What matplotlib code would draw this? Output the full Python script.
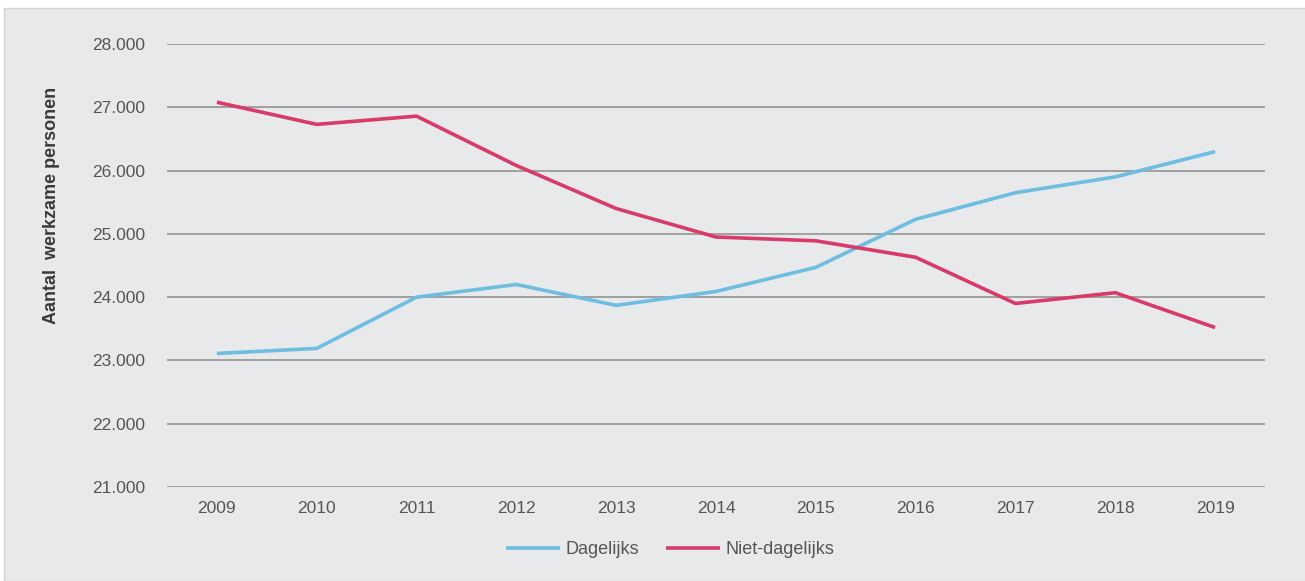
import matplotlib.pyplot as plt
from matplotlib.patches import Rectangle
from matplotlib.ticker import FuncFormatter

# Values
years = [2009, 2010, 2011, 2012, 2013, 2014, 2015, 2016, 2017, 2018, 2019]
dagelijks = [23110, 23190, 24000, 24200, 23870, 24090, 24470, 25230, 25650, 25900, 26300]
niet_dagelijks = [27080, 26730, 26860, 26080, 25400, 24950, 24890, 24630, 23900, 24070, 23520]
y_ticks = [21000, 22000, 23000, 24000, 25000, 26000, 27000, 28000]

plt.rcParams.update({
    "font.family": ["Liberation Sans", "DejaVu Sans"],
    "font.size": 12.5,
})

bg = '#e8e9eb'
text_col = '#555555'
col_dag = '#6dbee0'
col_niet = '#d83a69'

fig = plt.figure(figsize=(13.05, 5.81), dpi=100, facecolor='white')
# grey panel behind the chart (top strip stays white as in the source page)
fig.patches.append(Rectangle((4 / 1305, 0), 1, 1 - 8 / 581, transform=fig.transFigure,
                             facecolor=bg, edgecolor='#d2d3d5', lw=1, zorder=-10))

ax = fig.add_axes([167 / 1305, 1 - 487 / 581, (1265 - 167) / 1305, (487 - 44) / 581])
ax.set_facecolor('none')
ax.set_zorder(5)

x = list(range(len(years)))
ax.plot(x, dagelijks, color=col_dag, lw=2.6, label='Dagelijks', solid_capstyle='butt')
ax.plot(x, niet_dagelijks, color=col_niet, lw=2.6, label='Niet-dagelijks', solid_capstyle='butt')

ax.set_xlim(-0.5, len(years) - 0.5)
ax.set_ylim(21000, 28000)
ax.set_xticks(x)
ax.set_xticklabels([str(y) for y in years])
ax.set_yticks(y_ticks)
ax.yaxis.set_major_formatter(FuncFormatter(lambda v, p: f"{int(v):,}".replace(',', '.')))

ax.grid(axis='y', color='#a0a0a0', lw=1.4)
ax.set_axisbelow(True)
for s in ax.spines.values():
    s.set_visible(False)
ax.tick_params(axis='both', length=0, colors=text_col, labelsize=12.5)
ax.tick_params(axis='y', pad=16)
ax.tick_params(axis='x', pad=10)

fig.text(52 / 1305, 1 - 205 / 581, 'Aantal  werkzame personen', rotation=90,
         ha='center', va='center', fontsize=13, fontweight='bold', color='#3a3a3a')

fig.legend(loc='center', bbox_to_anchor=(670 / 1305, 1 - 550 / 581), ncol=2,
           frameon=False, handlelength=3.0, handletextpad=0.3, columnspacing=1.5,
           labelcolor=text_col, fontsize=13)

fig.savefig('out.png', dpi=100, facecolor=fig.get_facecolor())
